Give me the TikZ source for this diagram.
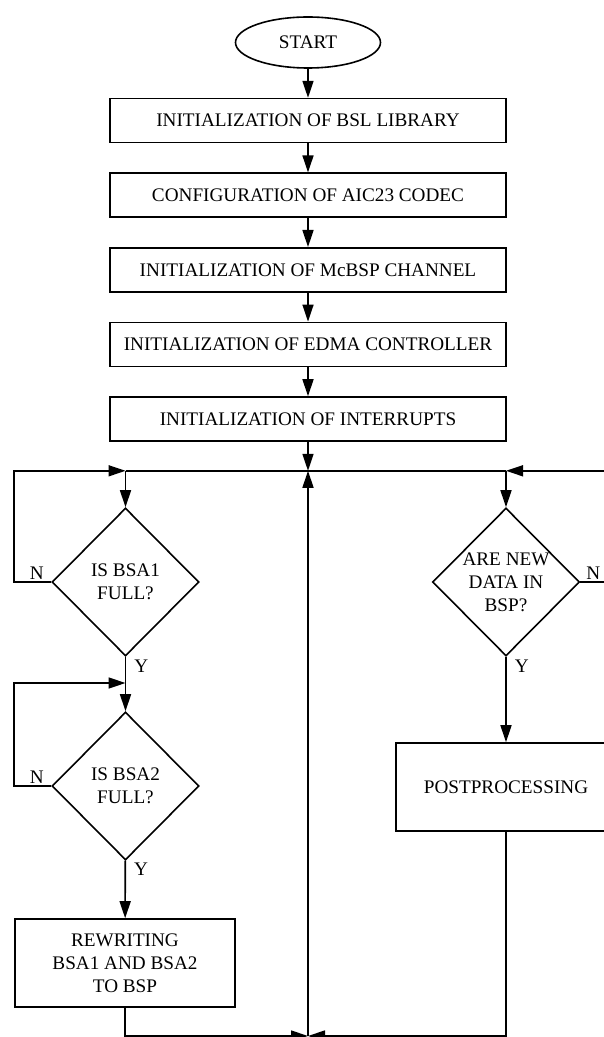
\documentclass[tikz,border=0pt]{standalone}
\usepackage{fontspec}
\setmainfont{Liberation Serif}
\usetikzlibrary{shapes.geometric, arrows.meta, positioning}
\newcommand{\fsz}{\fontsize{9.6pt}{11.5pt}\selectfont}
\tikzset{
  fstart/.style={ellipse, draw, line width=0.8pt, minimum width=72.5pt, minimum height=25.5pt,
                 inner sep=0pt, font=\fsz},
  fbox/.style ={rectangle, draw, line width=0.8pt, minimum width=198pt, minimum height=22pt,
                inner sep=0pt, align=center, font=\fsz},
  fboxb/.style={rectangle, draw, line width=0.8pt, minimum width=110pt, minimum height=44pt,
                inner sep=0pt, align=center, font=\fsz},
  fdec/.style ={diamond, draw, line width=0.8pt, minimum width=73.5pt, minimum height=74pt,
                inner sep=0pt, align=center, font=\fsz},
  farr/.style ={-{Triangle[length=8.5pt, width=5.5pt]}, line width=0.8pt},
  fline/.style={line width=0.8pt},
  flbl/.style ={font=\fsz, inner sep=1pt},
}

\begin{document}
\begin{tikzpicture}[x=0.5pt, y=-0.5pt]
  \path[use as bounding box, clip] (0,0) rectangle (604,1037);
  % main column
  \node[fstart] (start) at (308,42.5) {START};
  \node[fbox, below=14.5pt of start] (bsl) {INITIALIZATION OF BSL LIBRARY};
  \node[fbox, below=14.5pt of bsl] (aic) {CONFIGURATION OF AIC23 CODEC};
  \node[fbox, below=14.5pt of aic] (mcbsp) {INITIALIZATION OF McBSP CHANNEL};
  \node[fbox, below=14.5pt of mcbsp] (edma) {INITIALIZATION OF EDMA CONTROLLER};
  \node[fbox, below=14.5pt of edma] (intr) {INITIALIZATION OF INTERRUPTS};
  \coordinate[below=14.5pt of intr] (bus);
  % left branch
  \node[fdec] (bsa1) at (125.5,582) {IS BSA1\\FULL?};
  \node[fdec] (bsa2) at (125.5,786) {IS BSA2\\FULL?};
  \node[fboxb] (rewr) at (125,963) {REWRITING\\BSA1 AND BSA2\\TO BSP};
  % right branch
  \node[fdec] (newd) at (506,582) {ARE NEW\\DATA IN\\BSP?};
  \node[fboxb] (post) at (506,787) {POSTPROCESSING};
  \coordinate (busl) at (bsa1 |- bus);
  \coordinate (busr) at (newd |- bus);
  \coordinate (bsa2in) at (125.5,683);
  \coordinate (join) at (308,1036);

  \draw[farr] (start) -- (bsl); \draw[farr] (bsl) -- (aic); \draw[farr] (aic) -- (mcbsp);
  \draw[farr] (mcbsp) -- (edma); \draw[farr] (edma) -- (intr); \draw[farr] (intr) -- (bus);
  \draw[fline] (busl) -- (busr);
  \draw[farr] (busl) -- (bsa1);
  \draw[farr] (busr) -- (newd);
  \draw[farr] (bsa1.west) -- node[flbl, above, xshift=2pt]{N} ++(-37,0) |- (busl);
  \draw[farr] (bsa1) -- node[flbl, pos=0, anchor=north west, xshift=3pt]{Y} (bsa2);
  \draw[farr] (bsa2.west) -- node[flbl, above, xshift=2pt]{N} ++(-37,0) |- (bsa2in);
  \draw[farr] (bsa2) -- node[flbl, pos=0, anchor=north west, xshift=3pt]{Y} (rewr);
  \draw[farr] (newd.east) -- node[flbl, above, xshift=-1pt]{N} ++(30,0) |- (busr);
  \draw[farr] (newd) -- node[flbl, pos=0, anchor=north west, xshift=3pt]{Y} (post);
  \draw[farr] (rewr.south) |- (join);
  \draw[farr] (post.south) |- (join);
  \draw[farr] (join) -- (bus);
\end{tikzpicture}
\end{document}
